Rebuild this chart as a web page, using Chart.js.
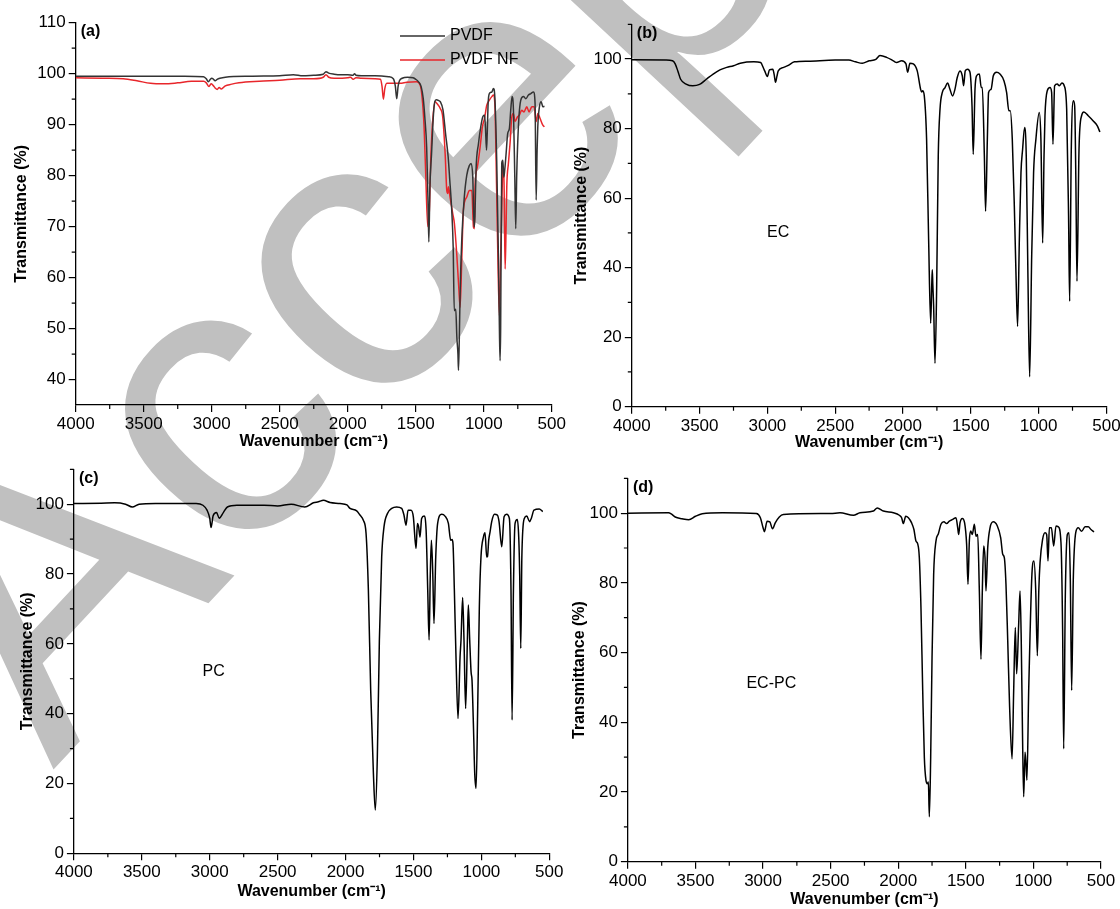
<!DOCTYPE html>
<html>
<head>
<meta charset="utf-8">
<script src="https://cdn.jsdelivr.net/npm/chart.js@4.4.1/dist/chart.umd.min.js"></script>
<style>
  body { margin: 0; background: #fff; }
  #wrap { position: relative; width: 1120px; height: 909px; overflow: hidden; }
  canvas { position: absolute; }
</style>
</head>
<body>
<div id="wrap">
  <canvas id="mark" width="1120" height="909" style="left:0;top:0"></canvas>
  <canvas id="ca" width="585" height="460" style="left:0;top:0"></canvas>
  <canvas id="cb" width="575" height="460" style="left:545px;top:0"></canvas>
  <canvas id="cc" width="585" height="464" style="left:0;top:445px"></canvas>
  <canvas id="cd" width="575" height="454" style="left:545px;top:455px"></canvas>
</div>
<script>
// ticks
const xTicks = [4000, 3500, 3000, 2500, 2000, 1500, 1000, 500];
const xMinor = [3750, 3250, 2750, 2250, 1750, 1250, 750];
const yTicksA = [40, 50, 60, 70, 80, 90, 100, 110];
const yMinorA = [45, 55, 65, 75, 85, 95, 105];
const yTicks = [0, 20, 40, 60, 80, 100];
const yMinor = [10, 30, 50, 70, 90, 110];

// (a) PVDF
const pvdfWn = [4000, 3600, 3200, 3060, 3040, 3025, 3010, 3000, 2990, 2975, 2960, 2940, 2900, 2700, 2500, 2400, 2330, 2250, 2180, 2160, 2140, 2100, 2050, 2000, 1960, 1950, 1940, 1900, 1800, 1700, 1665, 1650, 1640, 1630, 1620, 1600, 1560, 1520, 1500, 1480, 1460, 1445, 1432, 1420, 1410, 1404, 1396, 1384, 1370, 1360, 1350, 1330, 1320, 1300, 1280, 1262, 1250, 1237, 1225, 1217, 1206, 1198, 1190, 1186, 1180, 1174, 1162, 1145, 1125, 1106, 1093, 1081, 1071, 1065, 1057, 1039, 1022, 1008, 995, 988, 980, 975, 968, 959, 941, 929, 919, 905, 892, 884, 880, 876, 868, 860, 853, 846, 836, 824, 812, 802, 792, 782, 772, 765, 758, 755, 743, 728, 708, 691, 672, 654, 635, 623, 615, 608, 603, 591, 578, 566, 554];
const pvdfT = [99.5, 99.5, 99.5, 99.4, 99.0, 98.4, 98.9, 99.1, 99.0, 98.6, 98.9, 99.1, 99.3, 99.5, 99.6, 99.8, 99.6, 99.7, 99.9, 100.4, 100.1, 99.9, 99.8, 99.8, 99.7, 100.0, 99.7, 99.6, 99.6, 99.4, 99.0, 97.5, 95.1, 97.5, 98.6, 99.1, 99.3, 99.2, 98.9, 98.4, 97.4, 95.1, 90.9, 85.6, 75, 67.0, 77.8, 84.3, 92, 94.5, 94.9, 94.7, 94.5, 92.9, 88, 83.7, 79.1, 73.9, 66, 53.5, 53.8, 48.3, 45, 41.8, 48, 56.8, 67.3, 75.2, 80.1, 82.0, 82.4, 79.7, 69.9, 72, 81.1, 86.3, 89.6, 91.5, 91.9, 89.6, 85.0, 88, 94.2, 96.1, 96.4, 97.1, 95.5, 83.0, 63.4, 48, 43.7, 50, 82.4, 83.0, 79.7, 81.1, 84.3, 88.3, 89.2, 92.8, 95.5, 92.8, 79.7, 69.6, 80, 83, 90.9, 94.8, 95.5, 95.1, 95.8, 96.1, 96.4, 94.2, 75.2, 85, 89.6, 93.5, 94.5, 93.5, 93.6];
const nfWn = [4000, 3800, 3650, 3550, 3450, 3350, 3250, 3150, 3060, 3040, 3020, 3005, 2990, 2975, 2960, 2945, 2930, 2900, 2860, 2800, 2650, 2500, 2350, 2250, 2180, 2160, 2140, 2100, 2000, 1980, 1960, 1940, 1900, 1800, 1760, 1748, 1738, 1728, 1713, 1677, 1615, 1566, 1493, 1468, 1454, 1439, 1427, 1412, 1400, 1390, 1375, 1358, 1346, 1321, 1302, 1284, 1272, 1264, 1260, 1248, 1228, 1216, 1199, 1184, 1174, 1162, 1150, 1125, 1106, 1088, 1076, 1069, 1064, 1047, 1027, 1010, 995, 978, 959, 941, 929, 919, 905, 895, 885, 878, 870, 860, 853, 848, 843, 836, 831, 819, 807, 794, 782, 770, 753, 738, 721, 704, 684, 667, 647, 630, 615, 603, 586, 566, 554];
const nfT = [99.2, 99.1, 99.0, 98.6, 98.1, 98.0, 98.2, 98.5, 98.5, 98.2, 97.5, 98.0, 97.7, 97.2, 96.9, 97.3, 97.0, 97.6, 97.9, 98.2, 98.5, 98.7, 99.0, 99.0, 99.3, 99.8, 99.3, 99.1, 99.2, 99.3, 98.9, 99.2, 99.1, 99.0, 98.9, 97.5, 95.0, 97.0, 98.1, 98.1, 98.1, 98.3, 98.4, 97.8, 95.5, 89.6, 80.4, 70.0, 73.2, 83, 90.9, 94.5, 94.2, 93.2, 91.5, 84.3, 77.1, 76.5, 77.8, 75.8, 72.5, 70.6, 64.7, 58.1, 54.2, 63.4, 73.2, 75.8, 77.1, 77.1, 69.9, 69.6, 77.8, 81.7, 85.6, 89.6, 91.2, 93.8, 94.8, 95.5, 95.8, 94.2, 76.5, 62, 52.5, 62, 71.2, 81.1, 81.7, 72, 61.7, 70, 77.8, 82.4, 86.3, 91.5, 92.2, 90.6, 91.5, 91.9, 92.8, 92.5, 93.5, 92.5, 93.5, 93.5, 90.6, 92.2, 91.2, 89.9, 89.6];

// (b) EC
const ecWn = [4000, 3750, 3700, 3680, 3660, 3640, 3600, 3550, 3500, 3450, 3400, 3350, 3300, 3250, 3200, 3100, 3050, 3030, 3020, 3000, 2985, 2960, 2950, 2940, 2930, 2920, 2880, 2850, 2800, 2700, 2500, 2400, 2350, 2300, 2250, 2200, 2170, 2121, 2071, 2047, 2010, 1978, 1966, 1949, 1924, 1895, 1870, 1862, 1855, 1843, 1826, 1811, 1796, 1788, 1784, 1780, 1774, 1764, 1752, 1740, 1727, 1710, 1690, 1671, 1654, 1634, 1617, 1600, 1580, 1563, 1553, 1541, 1523, 1506, 1491, 1482, 1469, 1457, 1437, 1423, 1415, 1400, 1391, 1378, 1369, 1351, 1334, 1310, 1285, 1255, 1236, 1219, 1209, 1194, 1179, 1167, 1155, 1142, 1130, 1118, 1103, 1091, 1079, 1066, 1051, 1037, 1020, 995, 983, 970, 960, 953, 936, 916, 904, 894, 882, 862, 847, 828, 811, 793, 779, 771, 759, 744, 734, 725, 717, 702, 683, 666, 634, 597, 567, 548];
const ecT = [99.8, 99.7, 99.5, 98.6, 96.5, 94.2, 92.8, 92.3, 92.7, 94.2, 95.7, 96.9, 97.6, 98.1, 98.8, 99.2, 99.0, 97.5, 96.6, 95.0, 96.9, 97.1, 95.5, 93.3, 95, 96.6, 97.6, 98.1, 99.2, 99.4, 99.7, 99.7, 99.2, 98.8, 99.5, 99.9, 101.0, 100.5, 99.5, 99.0, 99.5, 98.6, 96.2, 98.8, 98.6, 96.6, 91.3, 90.5, 90.9, 89.4, 76.9, 48.1, 24.0, 35, 39.4, 35, 28.8, 12.5, 33.6, 72.1, 85.6, 90.4, 91.8, 93.1, 91.3, 89.4, 91.3, 94.7, 96.6, 95.2, 92.3, 96.6, 97.1, 96.2, 86.5, 72.6, 91.3, 95.2, 95.7, 91.8, 91.8, 72.1, 56.2, 76.9, 90.4, 91.3, 95.2, 96.2, 95.7, 93.7, 90.4, 85.1, 85.1, 76.9, 57.7, 38.5, 23.1, 48.1, 67.3, 74.0, 80.3, 72.1, 38.5, 8.6, 43.3, 67.3, 76.9, 84.6, 76.9, 47.1, 72.1, 83.7, 90.9, 91.8, 90.4, 75.5, 92.3, 92.8, 92.3, 93.1, 92.3, 85.6, 54.8, 30.3, 74, 88, 86.5, 64.4, 36.1, 74, 83.7, 84.8, 83.7, 82.2, 80.8, 79.0];

// (c) PC
const pcWn = [4000, 3800, 3700, 3620, 3570, 3520, 3400, 3100, 3050, 3020, 3000, 2990, 2975, 2950, 2930, 2900, 2870, 2800, 2600, 2500, 2400, 2300, 2237, 2200, 2163, 2114, 2041, 1990, 1967, 1918, 1894, 1869, 1849, 1832, 1815, 1795, 1781, 1766, 1751, 1734, 1717, 1692, 1660, 1624, 1587, 1570, 1555, 1540, 1518, 1501, 1481, 1471, 1462, 1452, 1440, 1422, 1407, 1395, 1385, 1376, 1368, 1358, 1349, 1336, 1322, 1292, 1268, 1243, 1226, 1216, 1209, 1199, 1187, 1172, 1157, 1150, 1138, 1128, 1116, 1103, 1096, 1086, 1076, 1069, 1059, 1049, 1039, 1027, 1015, 1003, 985, 973, 961, 955, 946, 936, 924, 904, 882, 870, 850, 833, 814, 794, 782, 774, 764, 752, 735, 725, 718, 710, 702, 684, 666, 645, 632, 613, 574, 548];
const pcT = [100.2, 100.3, 100.4, 100.0, 99.2, 100.0, 100.2, 100.2, 99.7, 98.3, 96, 93.3, 96.7, 97.6, 96.0, 97.6, 99.2, 99.7, 99.7, 99.5, 100.0, 99.2, 100.4, 100.7, 101.1, 100.5, 100.2, 99.8, 98.8, 98.1, 96.9, 95.4, 91.6, 75.4, 46.8, 22.9, 12.4, 27.7, 61.1, 84.9, 93.5, 97.3, 98.8, 99.2, 98.8, 96.9, 94.0, 98.3, 98.3, 96.4, 87.3, 94.5, 93.5, 90.6, 95.9, 96.6, 92.6, 75.4, 61.1, 80.2, 89.7, 80.2, 65.8, 84.9, 94.5, 97.1, 96.6, 94.5, 89.7, 89.9, 88.7, 75.4, 56.3, 38.6, 56.3, 61.1, 73.3, 61.1, 41.5, 61.1, 71.1, 61.1, 52.0, 49.6, 37.2, 22.9, 18.6, 42.0, 70.6, 84.9, 90.6, 91.8, 84.9, 85, 89.7, 92.1, 95.0, 97.1, 96.9, 95.0, 87.8, 96.4, 97.1, 95.9, 75.4, 38.2, 75.4, 94.5, 95.6, 90.5, 80, 58.7, 85, 95.9, 96.6, 95.0, 96, 98.3, 98.6, 97.9];

// (d) EC-PC
const mixWn = [4000, 3700, 3680, 3650, 3600, 3550, 3500, 3450, 3300, 3050, 3020, 3000, 2990, 2970, 2950, 2930, 2910, 2880, 2850, 2500, 2431, 2332, 2283, 2184, 2155, 2110, 2036, 1992, 1975, 1962, 1945, 1925, 1901, 1884, 1869, 1856, 1844, 1832, 1819, 1807, 1795, 1785, 1777, 1770, 1760, 1750, 1738, 1721, 1703, 1684, 1662, 1642, 1622, 1597, 1573, 1560, 1553, 1543, 1526, 1509, 1494, 1484, 1474, 1464, 1452, 1437, 1425, 1412, 1400, 1388, 1378, 1368, 1358, 1351, 1338, 1321, 1297, 1267, 1242, 1227, 1215, 1203, 1190, 1176, 1158, 1146, 1134, 1124, 1109, 1099, 1090, 1080, 1072, 1062, 1055, 1048, 1035, 1025, 1011, 996, 983, 971, 960, 951, 932, 914, 902, 892, 882, 867, 850, 833, 816, 796, 784, 776, 764, 749, 737, 727, 717, 705, 687, 668, 643, 618, 594, 574, 552];
const mixT = [100, 100.1, 99.8, 98.9, 98.4, 98.1, 99.1, 99.8, 100.1, 99.9, 98.7, 95.8, 94.7, 97.7, 97.5, 95.5, 97.2, 98.9, 99.6, 99.9, 100.1, 99.4, 100.1, 100.6, 101.5, 100.6, 100.1, 99.4, 98.7, 97.0, 99.1, 98.7, 97.2, 95.3, 92.0, 91.2, 87.2, 73, 49.1, 30.0, 23.4, 22.4, 22.9, 12.9, 30, 58.6, 82.5, 92, 94.1, 96.8, 97.5, 97, 97.7, 98.2, 98.7, 95.8, 93.9, 97.2, 98.5, 97.2, 91.0, 79.6, 92, 94.9, 93.9, 96.8, 93.4, 93.9, 77.7, 58.1, 77.7, 90.6, 87.2, 77.7, 90.1, 95.8, 97.5, 96.3, 92.9, 88.2, 87.2, 79.6, 63.4, 44.3, 29.5, 49.1, 67.2, 53.9, 68.2, 77.7, 63.4, 34.8, 18.6, 31.4, 28.1, 23.4, 49.1, 65, 82.5, 86.3, 78, 59.1, 78, 85.8, 92.5, 94.4, 93.9, 86.3, 95.8, 95.8, 90.6, 96.3, 96.1, 91.5, 66.7, 32.4, 76.3, 93.9, 94.4, 81, 49.1, 81, 94.4, 95.8, 94.8, 96.1, 96.1, 95.3, 94.6];

const FONT = '"Liberation Sans", Arial, sans-serif';
Chart.defaults.font.family = FONT;
Chart.defaults.color = '#000';

const pts = (wn, t) => wn.map((x, i) => ({ x, y: t[i] }));

// minor ticks, panel tag, note and legend
const extras = {
  id: 'extras',
  afterDraw(chart, args, o) {
    const { ctx, chartArea: a, scales: { x, y } } = chart;
    ctx.save();
    ctx.strokeStyle = '#000';
    ctx.lineWidth = 1.2;
    ctx.beginPath();
    o.minorX.forEach(v => {
      const px = x.getPixelForValue(v);
      ctx.moveTo(px, a.bottom);
      ctx.lineTo(px, a.bottom + 4);
    });
    o.minorY.forEach(v => {
      const py = y.getPixelForValue(v);
      ctx.moveTo(a.left, py);
      ctx.lineTo(a.left - 4, py);
    });
    ctx.stroke();
    ctx.fillStyle = '#000';
    ctx.textBaseline = 'middle';
    ctx.textAlign = 'left';
    ctx.font = 'bold 16px ' + FONT;
    ctx.fillText(o.tag, a.left + 5, a.top + 9);
    ctx.font = '16px ' + FONT;
    if (o.note) {
      ctx.fillText(o.note.text, x.getPixelForValue(o.note.x), y.getPixelForValue(o.note.y));
    }
    if (o.legend) {
      chart.data.datasets.forEach((d, i) => {
        const ly = o.legend.y + i * o.legend.gap;
        ctx.strokeStyle = d.borderColor;
        ctx.lineWidth = 1.5;
        ctx.beginPath();
        ctx.moveTo(o.legend.x, ly);
        ctx.lineTo(o.legend.x + 45, ly);
        ctx.stroke();
        ctx.fillText(d.label, o.legend.x + 50, ly);
      });
    }
    ctx.restore();
  }
};

function panel(id, datasets, p) {
  // p.area and title positions are in canvas pixels
  const padLeft = p.yTitleX - 8;
  const padBottom = p.h - (p.xTitleY + 8);
  new Chart(document.getElementById(id), {
    type: 'line',
    data: { datasets },
    plugins: [extras],
    options: {
      responsive: false,
      animation: false,
      events: [],
      layout: { padding: { left: padLeft, right: p.w - p.area.r, top: p.area.t, bottom: padBottom } },
      elements: { point: { radius: 0 }, line: { borderWidth: 1.5, cubicInterpolationMode: 'monotone' } },
      plugins: {
        legend: { display: false },
        tooltip: { enabled: false },
        extras: p.extras
      },
      scales: {
        x: {
          type: 'linear',
          reverse: true,
          min: 500,
          max: 4000,
          afterBuildTicks: s => { s.ticks = xTicks.map(v => ({ value: v })); },
          afterFit: s => {
            s.height = p.xTitleY + 8 - p.area.b;
            s.paddingLeft = 0; s.paddingRight = 0;
          },
          border: { color: '#000', width: 1.3 },
          grid: { drawOnChartArea: false, tickLength: 7, color: '#000', lineWidth: 1.2 },
          ticks: { color: '#000', font: { size: 17 }, padding: 2, maxRotation: 0, autoSkip: false, callback: v => String(v) },
          title: { display: true, text: 'Wavenumber (cm\u207B\u00B9)', color: '#000', padding: 0, font: { size: 16, weight: 'bold', lineHeight: 1 } }
        },
        y: {
          min: p.yMin,
          max: p.yMax,
          afterBuildTicks: s => { s.ticks = p.yTicks.map(v => ({ value: v })); },
          afterFit: s => {
            s.width = p.area.l - padLeft;
            s.paddingTop = 0; s.paddingBottom = 0;
          },
          border: { color: '#000', width: 1.3 },
          grid: { drawOnChartArea: false, tickLength: 7, color: '#000', lineWidth: 1.2 },
          ticks: { color: '#000', font: { size: 17 }, padding: 3, callback: v => String(v) },
          title: { display: true, text: 'Transmittance (%)', color: '#000', padding: 0, font: { size: 16, weight: 'bold', lineHeight: 1 } }
        }
      }
    }
  });
}

// watermark behind the plots
const wm = document.getElementById('mark').getContext('2d');
wm.save();
wm.translate(53, 770);
wm.rotate(-47 * Math.PI / 180);
wm.font = '400px ' + FONT;
wm.fillStyle = '#c0c0c0';
wm.fillText('Accepted', 0, 0);
wm.restore();

panel('ca', [
  { label: 'PVDF', data: pts(pvdfWn, pvdfT), borderColor: '#333333' },
  { label: 'PVDF NF', data: pts(nfWn, nfT), borderColor: '#e8262b' }
], {
  w: 585, h: 460, area: { l: 75.7, r: 551.8, t: 22.7, b: 405 }, yTitleX: 21.4, xTitleY: 441.7,
  yMin: 35, yMax: 110, yTicks: yTicksA,
  extras: { minorX: xMinor, minorY: yMinorA, tag: '(a)', legend: { x: 400, y: 36, gap: 24 } }
});

panel('cb', [
  { label: 'EC', data: pts(ecWn, ecT), borderColor: '#000' }
], {
  w: 575, h: 460, area: { l: 86.8, r: 561.4, t: 24.3, b: 406.7 }, yTitleX: 37, xTitleY: 443,
  yMin: 0, yMax: 110, yTicks: yTicks,
  extras: { minorX: xMinor, minorY: yMinor, tag: '(b)', note: { text: 'EC', x: 3003, y: 50 } }
});

panel('cc', [
  { label: 'PC', data: pts(pcWn, pcT), borderColor: '#000' }
], {
  w: 585, h: 464, area: { l: 73.9, r: 549.3, t: 24.3, b: 408.3 }, yTitleX: 27.9, xTitleY: 446.7,
  yMin: 0, yMax: 110, yTicks: yTicks,
  extras: { minorX: xMinor, minorY: yMinor, tag: '(c)', note: { text: 'PC', x: 3053, y: 52 } }
});

panel('cd', [
  { label: 'EC-PC', data: pts(mixWn, mixT), borderColor: '#000' }
], {
  w: 575, h: 454, area: { l: 82.9, r: 556, t: 23.3, b: 406.7 }, yTitleX: 34.6, xTitleY: 445,
  yMin: 0, yMax: 110, yTicks: yTicks,
  extras: { minorX: xMinor, minorY: yMinor, tag: '(d)', note: { text: 'EC-PC', x: 3123, y: 51 } }
});
</script>
</body>
</html>
